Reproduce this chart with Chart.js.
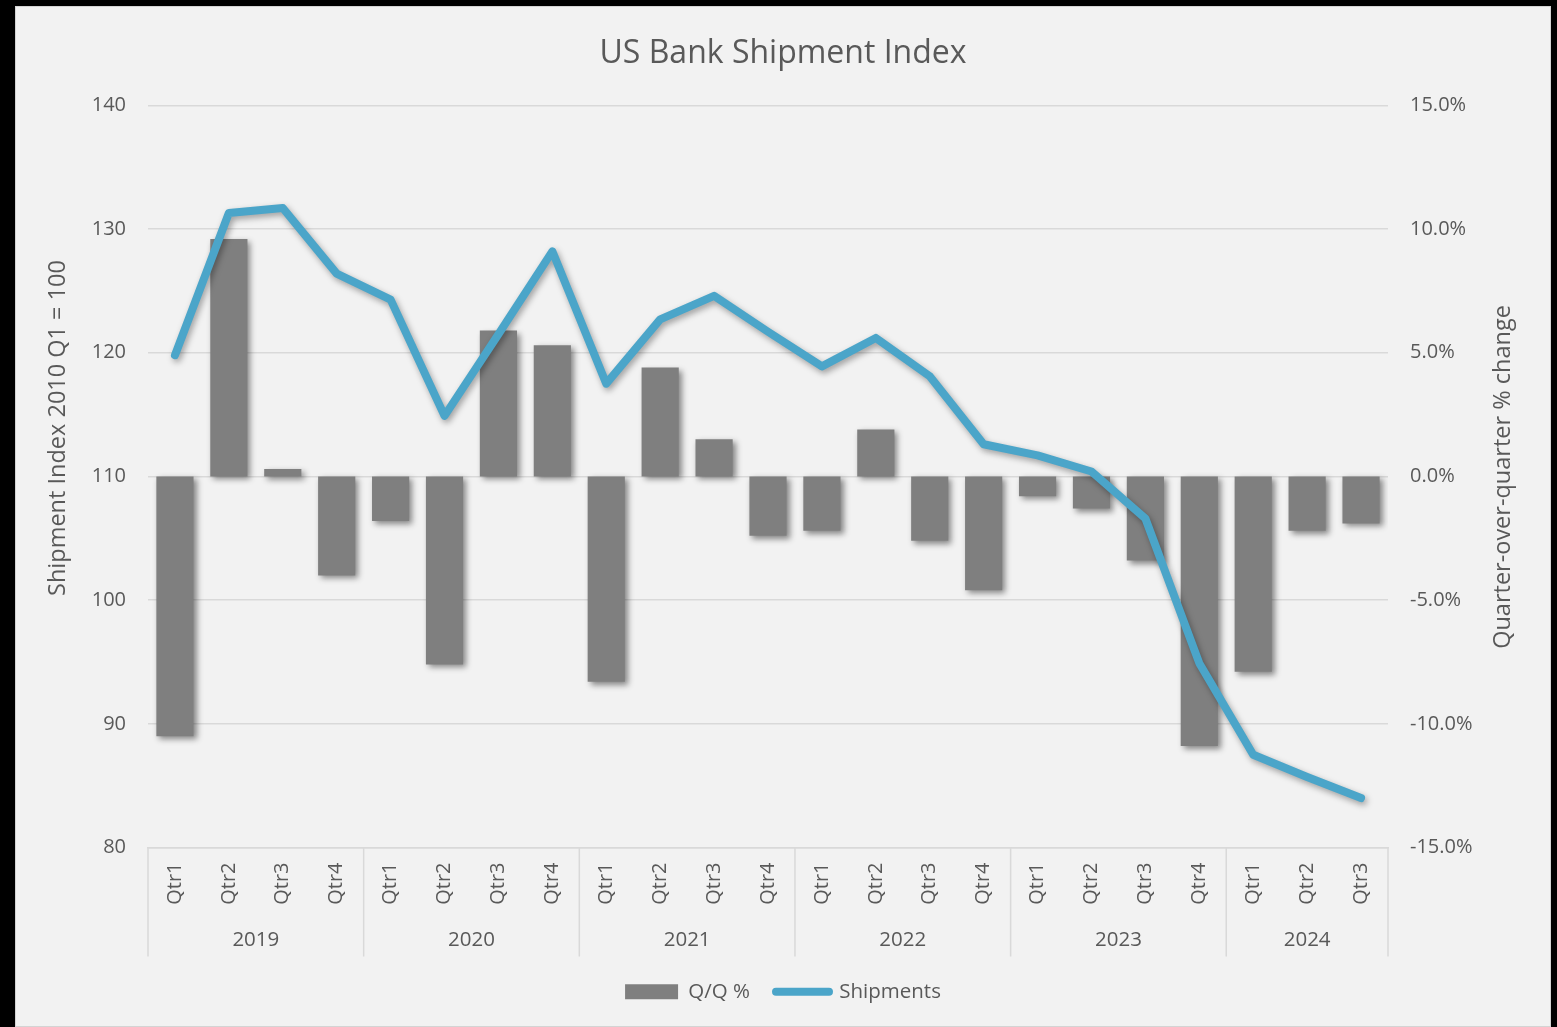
<!DOCTYPE html>
<html>
<head>
<meta charset="utf-8">
<script src="https://cdn.jsdelivr.net/npm/chart.js@4.4.1/dist/chart.umd.min.js"></script>
<style>
html,body{margin:0;padding:0;background:#000;width:1557px;height:1027px;overflow:hidden;}
#wrap{position:absolute;left:15px;top:6px;width:1536px;height:1021px;background:#f2f2f2;box-shadow:inset 0 0 0 1px #d4d4d4;}
canvas{display:block;}
</style>
</head>
<body>
<div id="wrap"><canvas id="c"></canvas></div>
<script>
// ---- Data ----
const quarterLabels = ['Qtr1','Qtr2','Qtr3','Qtr4','Qtr1','Qtr2','Qtr3','Qtr4','Qtr1','Qtr2','Qtr3','Qtr4','Qtr1','Qtr2','Qtr3','Qtr4','Qtr1','Qtr2','Qtr3','Qtr4','Qtr1','Qtr2','Qtr3'];
const yearLabels = ['2019','2020','2021','2022','2023','2024'];
const quartersPerYear = [4,4,4,4,4,3];
const qoqPct = [-10.5, 9.6, 0.3, -4.0, -1.8, -7.6, 5.9, 5.3, -8.3, 4.4, 1.5, -2.4, -2.2, 1.9, -2.6, -4.6, -0.8, -1.3, -3.4, -10.9, -7.9, -2.2, -1.9];
const shipments = [119.8, 131.3, 131.7, 126.4, 124.3, 114.9, 121.5, 128.2, 117.5, 122.7, 124.6, 121.7, 118.9, 121.2, 118.1, 112.6, 111.7, 110.4, 106.6, 94.9, 87.5, 85.7, 84.0];
const leftAxisRange = [80, 140, 10];
const rightAxisRange = [-15, 15, 5];
const chartTitle = 'US Bank Shipment Index';
const leftAxisTitle = 'Shipment Index 2010 Q1 = 100';
const rightAxisTitle = 'Quarter-over-quarter % change';
const seriesNames = ['Q/Q %', 'Shipments'];

// ---- Styles ----
const TEXT = '#595959';
const GRID = '#d9d9d9';
const BAR = '#7f7f7f';
const LINE = '#4ba5c9';
const FONT = "'Open Sans', 'DejaVu Sans', sans-serif";

Chart.defaults.font.family = FONT;
Chart.defaults.color = TEXT;

const shadowPlugin = {
  id: 'shadows',
  beforeDatasetDraw(chart, args) {
    const ctx = chart.ctx;
    ctx.save();
    if (args.meta.type === 'bar') {
      ctx.shadowColor = 'rgba(0,0,0,0.45)';
      ctx.shadowBlur = 6; ctx.shadowOffsetX = 3; ctx.shadowOffsetY = 3;
    } else {
      ctx.shadowColor = 'rgba(0,0,0,0.35)';
      ctx.shadowBlur = 6; ctx.shadowOffsetX = 2; ctx.shadowOffsetY = 3;
    }
  },
  afterDatasetDraw(chart) { chart.ctx.restore(); }
};

const groupAxisPlugin = {
  id: 'groupAxis',
  afterDraw(chart) {
    const {ctx, chartArea, scales} = chart;
    const x = scales.x;
    const step = x.getPixelForValue(1) - x.getPixelForValue(0);
    const top = chartArea.bottom;
    const bottom = x.bottom + 1;
    ctx.save();
    ctx.strokeStyle = GRID;
    ctx.lineWidth = 1.5;
    let idx = 0;
    const bounds = [x.getPixelForValue(0) - step / 2];
    quartersPerYear.forEach(n => { idx += n; bounds.push(x.getPixelForValue(idx - 1) + step / 2); });
    bounds.forEach(bx => {
      ctx.beginPath(); ctx.moveTo(bx, top); ctx.lineTo(bx, bottom); ctx.stroke();
    });
    ctx.fillStyle = TEXT;
    ctx.font = "20.5px " + FONT;
    ctx.textAlign = 'center';
    ctx.textBaseline = 'middle';
    yearLabels.forEach((y, i) => {
      ctx.fillText(y, (bounds[i] + bounds[i + 1]) / 2, x.bottom - 15);
    });
    // axis titles
    ctx.font = "23.5px " + FONT;
    ctx.save();
    ctx.translate(43, 422);
    ctx.rotate(-Math.PI / 2);
    ctx.fillText(leftAxisTitle, 0, 0);
    ctx.restore();
    ctx.save();
    ctx.translate(1488, 471);
    ctx.rotate(-Math.PI / 2);
    ctx.fillText(rightAxisTitle, 0, 0);
    ctx.restore();
    ctx.restore();
  }
};

new Chart(document.getElementById('c'), {
  data: {
    labels: quarterLabels,
    datasets: [
      {
        type: 'bar', label: seriesNames[0], data: qoqPct, yAxisID: 'y1',
        backgroundColor: BAR, borderWidth: 0,
        barPercentage: 0.69, categoryPercentage: 1.0, order: 2
      },
      {
        type: 'line', label: seriesNames[1], data: shipments, yAxisID: 'y',
        borderColor: LINE, backgroundColor: LINE, borderWidth: 8,
        pointRadius: 0, tension: 0, borderCapStyle: 'round', borderJoinStyle: 'round', order: 1
      }
    ]
  },
  options: {
    responsive: true,
    maintainAspectRatio: false,
    animation: false,
    layout: { padding: { left: 0, right: 0, top: 0, bottom: 15 } },
    plugins: {
      title: {
        display: true, text: chartTitle, color: TEXT,
        font: { size: 32, weight: 'normal', family: FONT },
        padding: { top: 29, bottom: 32 }
      },
      legend: {
        position: 'bottom',
        labels: {
          usePointStyle: true, pointStyleWidth: 53, boxHeight: 15,
          font: { size: 20.5, family: FONT }, color: TEXT, padding: 26,
          generateLabels(chart) {
            return chart.data.datasets.map((ds, i) => ({
              text: ds.label, datasetIndex: i, hidden: false,
              fillStyle: ds.type === 'bar' ? BAR : LINE,
              strokeStyle: ds.type === 'bar' ? BAR : LINE,
              lineWidth: ds.type === 'bar' ? 0 : 8,
              lineCap: 'round',
              pointStyle: ds.type === 'bar' ? 'rect' : 'line',
              fontColor: TEXT
            }));
          }
        }
      },
      tooltip: { enabled: false }
    },
    scales: {
      x: {
        type: 'category',
        grid: { display: false, drawTicks: false },
        border: { display: true, color: GRID, width: 1.5 },
        ticks: { minRotation: 90, maxRotation: 90, autoSkip: false, padding: 15, font: { size: 20 }, color: TEXT },
        afterFit(scale) { scale.height = 108; }
      },
      y: {
        position: 'left',
        min: leftAxisRange[0], max: leftAxisRange[1],
        grid: { color: GRID, lineWidth: 1.5, drawTicks: false },
        border: { display: false },
        ticks: { stepSize: leftAxisRange[2], padding: 22, font: { size: 20 }, color: TEXT },
        afterFit(scale) { scale.width = 133; }
      },
      y1: {
        position: 'right',
        min: rightAxisRange[0], max: rightAxisRange[1],
        grid: { display: false, drawTicks: false },
        border: { display: false },
        ticks: { stepSize: rightAxisRange[2], padding: 22, font: { size: 20 }, color: TEXT,
          callback: v => v.toFixed(1) + '%' },
        afterFit(scale) { scale.width = 163; }
      }
    }
  },
  plugins: [shadowPlugin, groupAxisPlugin]
});
</script>
</body>
</html>
